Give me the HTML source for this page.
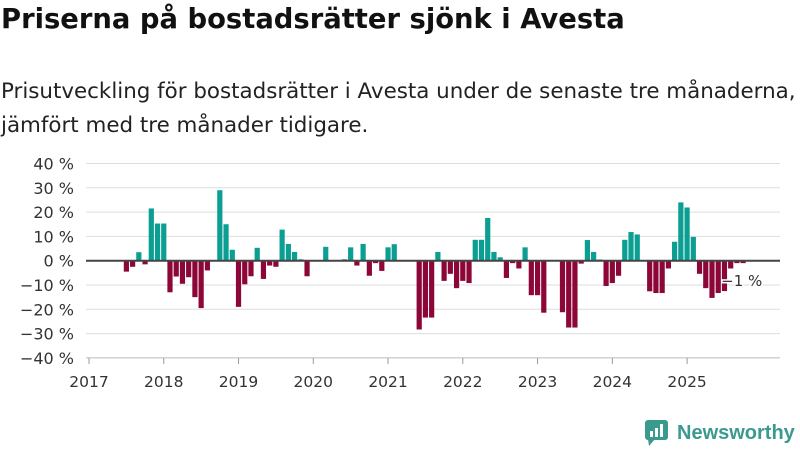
<!DOCTYPE html>
<html><head><meta charset="utf-8">
<style>
body{margin:0;width:800px;height:450px;background:#fff;font-family:"Liberation Sans",sans-serif;overflow:hidden;position:relative}
#title{position:absolute;left:1px;top:4px;font-family:"DejaVu Sans",sans-serif;font-size:27.4px;font-weight:bold;color:#111;margin:0;white-space:nowrap}
#sub{position:absolute;left:1px;top:75px;font-family:"DejaVu Sans",sans-serif;font-size:21.4px;line-height:34px;color:#222;width:810px;white-space:nowrap}
svg{position:absolute;left:0;top:0}
</style></head><body>
<h1 id="title">Priserna på bostadsrätter sjönk i Avesta</h1>
<div id="sub">Prisutveckling för bostadsrätter i Avesta under de senaste tre månaderna,<br>jämfört med tre månader tidigare.</div>
<svg id="chart" width="800" height="450"></svg>
<script>
const yTicks=[40,30,20,10,0,-10,-20,-30,-40];
const years=[2017,2018,2019,2020,2021,2022,2023,2024,2025];
const startYear=2017;
// monthly values from Jan 2017
const values=[0,0,0,0,0,0,-4.5,-2.5,3.5,-1.5,21.5,15.3,
15.3,-13,-6.5,-9.5,-6.8,-15,-19.5,-4,0,29,15,4.5,
-19,-9.7,-6.4,5.3,-7.5,-2,-2.5,12.8,6.9,3.6,0.6,-6.4,
0,0,5.7,0,0,0.6,5.5,-2,6.9,-6.2,-1,-4.2,
5.5,6.8,0,0,0,-28.3,-23.4,-23.4,3.6,-8.3,-5.4,-11.3,
-8.3,-9.2,8.6,8.6,17.6,3.6,1.4,-7.1,-1,-3.2,5.5,-14.2,
-14.2,-21.4,0,0,-21.2,-27.5,-27.5,-1.2,8.5,3.6,0.5,-10.4,
-9.2,-6.2,8.6,11.8,10.8,0,-12.6,-13.3,-13.3,-3.2,7.8,24,
21.9,9.8,-5.4,-11.3,-15.3,-13.3,-12.5,-3.2,-1,-1];
const lastLabel="−1 %";
const NS="http://www.w3.org/2000/svg";
const svg=document.getElementById('chart');
const x0=89,monthW=6.23,y0=260.7,pxPer=2.43;
const xS=m=>x0+m*monthW;
const yS=v=>y0-v*pxPer;
function el(t,a){const e=document.createElementNS(NS,t);for(const k in a)e.setAttribute(k,a[k]);svg.appendChild(e);return e;}
yTicks.forEach(t=>{
  if(t!==-40&&t!==0){const g=el('line',{x1:86,x2:780,y1:yS(t),y2:yS(t),stroke:'#ddd','stroke-width':1});
  
  }
  const tx=el('text',{x:74,y:yS(t)+6,'text-anchor':'end','font-size':16,fill:'#333','font-family':'DejaVu Sans, sans-serif'});
  tx.textContent=(t<0?'−'+(-t):t)+' %';
  
  
});
const ax=el('line',{x1:86,x2:780,y1:yS(-40),y2:yS(-40),stroke:'#bbb','stroke-width':1});


years.forEach(y=>{
  const m=(y-startYear)*12;
  const tk=el('line',{x1:xS(m),x2:xS(m),y1:yS(-40),y2:yS(-40)+6,stroke:'#999'});
  
  
  const t=el('text',{x:xS(m),y:387,'text-anchor':'middle','font-size':15.5,fill:'#333','font-family':'DejaVu Sans, sans-serif'});
  t.textContent=y;
  
  
});
values.forEach((v,i)=>{
  if(v===0)return;
  const x=xS(i)-2.6;
  const r=el('rect',{x:x,width:5.2,y:Math.min(yS(v),y0),height:Math.abs(yS(v)-y0),fill:v>0?'#0b9e93':'#8c0638'});
  
  
});
const zl=el('line',{x1:86,x2:780,y1:y0,y2:y0,stroke:'#444','stroke-width':2});


const li=values.length-1;
const lab=el('text',{x:xS(li)-22,y:yS(-8)+6,'font-size':15,fill:'#333','font-family':'DejaVu Sans, sans-serif',stroke:'#fff','stroke-width':3,'paint-order':'stroke'});
lab.textContent=lastLabel;


</script>
<div style="position:absolute;left:645px;top:420px;display:flex;align-items:center">
<svg width="23" height="26" style="position:static"><rect x="0" y="0" width="23" height="20" rx="3" fill="#3a9a8e"/><polygon points="3,19 10,19 4,26" fill="#3a9a8e"/><rect x="5" y="11" width="3" height="6" fill="#fff"/><rect x="10" y="8" width="3" height="9" fill="#fff"/><rect x="15" y="4" width="3" height="13" fill="#fff"/></svg>
<span style="margin-left:9px;font-size:20px;font-weight:bold;color:#3a9a8e">Newsworthy</span></div>
</body></html>
